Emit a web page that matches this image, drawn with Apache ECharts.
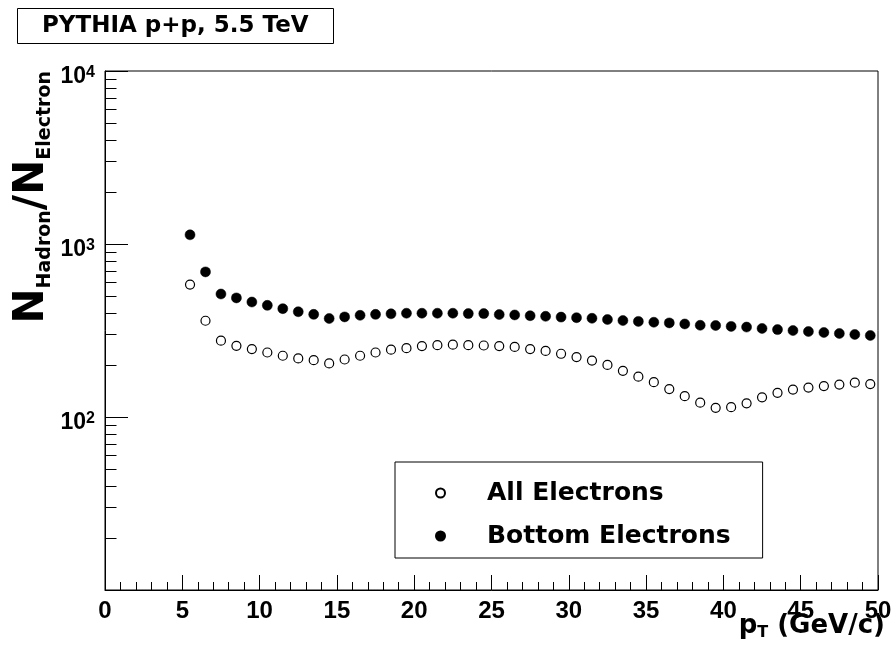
<!DOCTYPE html>
<html><head><meta charset="utf-8">
<script src="https://cdn.jsdelivr.net/npm/echarts@6/dist/echarts.min.js"></script>
<style>html,body{margin:0;padding:0;background:#fff}#c{width:891px;height:653px}</style>
</head><body><div id="c"></div>
<script>
// pT bin centres (GeV/c)
const pt = [5.5,6.5,7.5,8.5,9.5,10.5,11.5,12.5,13.5,14.5,15.5,16.5,17.5,18.5,19.5,20.5,21.5,22.5,23.5,24.5,25.5,26.5,27.5,28.5,29.5,30.5,31.5,32.5,33.5,34.5,35.5,36.5,37.5,38.5,39.5,40.5,41.5,42.5,43.5,44.5,45.5,46.5,47.5,48.5,49.5];
// N_Hadron / N_Electron, all electrons (open circles)
const allElectrons = [583,360,276,258,247,236,226,218,213,204,215,226,236,245,250,257,260,262,260,259,257,254,247,241,232,222,212,200,185,171,159,145,132,121,113,114,120,130,138,144,148,151,154,158,155];
// N_Hadron / N_Electron, bottom electrons (filled circles)
const bottomElectrons = [1130,690,514,488,462,442,423,406,392,371,379,387,392,395,398,398,398,398,396,396,391,389,385,382,378,375,372,366,361,357,353,350,345,339,338,334,331,325,320,316,312,308,304,300,296];
// log-axis minor tick values
const yMinorTicks = [20,30,40,50,60,70,80,90,200,300,400,500,600,700,800,900,2000,3000,4000,5000,6000,7000,8000,9000];
const seriesNames = ['All Electrons','Bottom Electrons'];
const titleText = 'PYTHIA p+p, 5.5 TeV';

const BOLD = 'bold';
const chart = echarts.init(document.getElementById('c'), null, {renderer:'canvas'});
const toPairs = (xs, ys) => xs.map((x,i)=>[x, ys[i]]);

chart.setOption({
  animation:false,
  backgroundColor:'#fff',
  title:{
    text:titleText, left:17, top:8,
    borderColor:'#000', borderWidth:1, padding:[5,25,5,25],
    textStyle:{fontFamily:'DejaVu Sans', fontWeight:BOLD, fontSize:23, lineHeight:26, color:'#000'}
  },
  legend:{
    orient:'vertical', left:395, top:462,
    data:seriesNames, selectedMode:false,
    itemWidth:9, itemHeight:9, itemGap:13,
    padding:[16,32,7,40],
    borderColor:'#000', borderWidth:1, borderRadius:0,
    textStyle:{fontFamily:'DejaVu Sans', fontWeight:BOLD, fontSize:25, lineHeight:30, color:'#000', padding:[0,0,0,37]}
  },
  grid:{left:105, right:13, top:71, bottom:63, show:true, borderColor:'#000', borderWidth:1, backgroundColor:'transparent', outerBoundsMode:'none', containLabel:false},
  xAxis:{
    type:'value', min:0, max:50, interval:5,
    name:'{m|p}{s|T}{m| (GeV/c)}', nameLocation:'end', nameGap:7, nameMoveOverlap:false,
    nameTextStyle:{align:'right', verticalAlign:'top', padding:[21,0,0,0],
      rich:{
        m:{fontFamily:'DejaVu Sans', fontWeight:BOLD, fontSize:26, lineHeight:30, color:'#000'},
        s:{fontFamily:'DejaVu Sans', fontWeight:BOLD, fontSize:16, lineHeight:6, verticalAlign:'bottom', color:'#000'}
      }},
    axisLine:{show:true, lineStyle:{color:'#000', width:1}},
    axisTick:{show:true, inside:true, length:15, lineStyle:{color:'#000', width:1}},
    minorTick:{show:true, splitNumber:5, length:8, lineStyle:{color:'#000', width:1}},
    splitLine:{show:false}, minorSplitLine:{show:false},
    axisLabel:{margin:9, fontFamily:'Liberation Sans', fontWeight:BOLD, fontSize:24, color:'#000', showMinLabel:true, showMaxLabel:true}
  },
  yAxis:{
    type:'log', logBase:10, min:10, max:10000,
    name:'{m|N}{s|Hadron}{m|/N}{s|Electron}', nameLocation:'end', nameGap:0, nameRotate:90, nameMoveOverlap:false,
    nameTextStyle:{align:'right', verticalAlign:'bottom', padding:[0,0,50,0],
      rich:{
        m:{fontFamily:'DejaVu Sans', fontWeight:BOLD, fontSize:42, lineHeight:46, color:'#000'},
        s:{fontFamily:'DejaVu Sans', fontWeight:BOLD, fontSize:19, lineHeight:8, verticalAlign:'bottom', color:'#000'}
      }},
    axisLine:{show:true, lineStyle:{color:'#000', width:1}},
    axisTick:{show:true, inside:true, length:23, lineStyle:{color:'#000', width:1}},
    splitLine:{show:false},
    axisLabel:{
      margin:10, padding:[12,0,0,0],
      formatter:function(v){ const e = Math.round(Math.log10(v)); if (e < 2) return ''; return '{b|10}{s|' + e + '}'; },
      rich:{
        b:{fontFamily:'Liberation Sans', fontWeight:BOLD, fontSize:23, lineHeight:24, color:'#000'},
        s:{fontFamily:'Liberation Sans', fontWeight:BOLD, fontSize:16, lineHeight:10, verticalAlign:'top', color:'#000'}
      }
    }
  },
  series:[
    {
      name:seriesNames[0], type:'scatter', symbol:'circle', symbolSize:9,
      data:toPairs(pt, allElectrons),
      itemStyle:{color:'#fff', borderColor:'#000', borderWidth:1.2, opacity:1},
      z:3
    },
    {
      name:seriesNames[1], type:'scatter', symbol:'circle', symbolSize:10,
      data:toPairs(pt, bottomElectrons),
      itemStyle:{color:'#000', borderColor:'#000', borderWidth:0.5, opacity:1},
      z:3
    },
    {
      name:'yMinor', type:'custom', silent:true, clip:false, z:4,
      data:yMinorTicks.map(v=>[0, v]),
      renderItem:function(params, api){
        const p = api.coord([0, api.value(1)]);
        const y = Math.round(p[1]) + 0.5;
        return {type:'line', shape:{x1:p[0], y1:y, x2:p[0]+11.5, y2:y}, style:{stroke:'#000', lineWidth:1}};
      }
    }
  ]
});
</script>
</body></html>
